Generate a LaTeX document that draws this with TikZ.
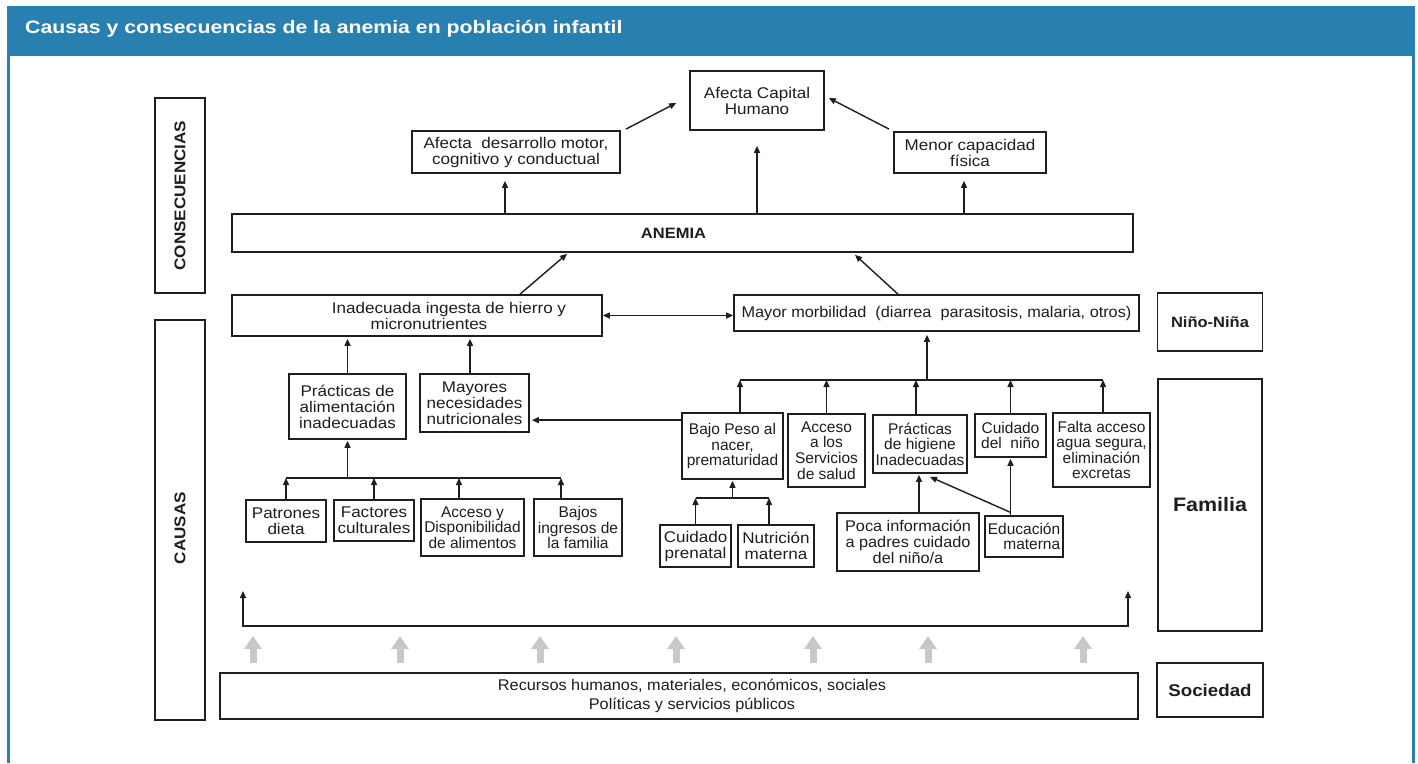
\documentclass[tikz,border=0pt]{standalone}
\usepackage{fontspec}
\setmainfont{Liberation Sans}
\newfontfamily\wideF{Liberation Sans}[FakeStretch=1.1]
\newfontfamily\midF{Liberation Sans}[FakeStretch=1.05]
\newfontfamily\titleF{Liberation Sans}[FakeStretch=1.18]
\usetikzlibrary{arrows.meta,calc}
\definecolor{hdr}{RGB}{40,128,177}
\definecolor{gar}{RGB}{200,200,200}
\definecolor{ink}{RGB}{30,30,30}
\begin{document}
\begin{tikzpicture}[x=1pt,y=-1pt,
 box/.style={draw=ink,line width=1.7pt,inner sep=0pt,align=center,text=ink,font=\wideF\fontsize{15.5}{16}\selectfont},
 nbox/.style={box,font=\fontsize{15.5}{15.6}\selectfont},
 mbox/.style={box,font=\midF\fontsize{15.5}{16}\selectfont},
 sz/.style 2 args={minimum width=#1pt,minimum height=#2pt},
 arr/.style={draw=ink,line width=1.4pt,-{Triangle[length=7pt,width=6pt]}},
 darr/.style={draw=ink,line width=1.4pt,{Triangle[length=7pt,width=6pt]}-{Triangle[length=7pt,width=6pt]}},
 bar/.style={draw=ink,line width=1.4pt},
 garr/.style={draw=gar,line width=7pt,-{Triangle[length=13pt,width=17pt]}},
 lab/.style={font=\wideF\bfseries\fontsize{15.5}{16}\selectfont,text=ink,inner sep=0pt}
]
\useasboundingbox (0,0) rectangle (1418,763);
\fill[white] (0,0) rectangle (1418,763);
% frame
\fill[hdr] (7,6) rectangle (1415,55.5);
\fill[hdr] (7,55) rectangle (10,763);
\fill[hdr] (1412,55) rectangle (1415,763);
\node[anchor=base west,text=white,inner sep=0pt,font=\titleF\bfseries\fontsize{18}{20}\selectfont] (title) at (25,33.5) {Causas y consecuencias de la anemia en población infantil};

% consequences
\node[box,sz={134}{59}] (capital) at (757,100.5) {Afecta Capital\\Humano};
\node[box,sz={208}{42}] (desar) at (516,152) {Afecta~ desarrollo motor,\\cognitivo y conductual};
\node[box,sz={152}{41}] (menor) at (970,152.5) {Menor capacidad\\física};
\node[box,sz={901}{38},label={[font=\wideF\bfseries\fontsize{15}{16}\selectfont,text=ink,inner sep=0pt,xshift=-9pt]center:ANEMIA}] (anemia) at (682.5,233) {};

% child level
\node[box,sz={370}{41},label={[font=\wideF\fontsize{15.5}{16}\selectfont,align=center,text=ink,inner sep=0pt,xshift=32pt]center:Inadecuada ingesta de hierro y\\micronutrientes\rule{40pt}{0pt}}] (inad) at (417,315.5) {};
\node[mbox,sz={405}{36}] (mayor) at (936.5,313) {Mayor morbilidad~ (diarrea~ parasitosis, malaria, otros)};

% left subtree
\node[box,sz={117}{65}] (practA) at (347.5,406.5) {Prácticas de\\alimentación\\inadecuadas};
\node[box,sz={109}{58}] (mayores) at (474.5,403) {Mayores\\necesidades\\nutricionales};
\node[box,sz={80}{42}] (patr) at (286,521) {Patrones\\dieta};
\node[box,sz={80}{41}] (fact) at (374,520.5) {Factores\\culturales};
\node[nbox,sz={103}{57}] (accA) at (472.5,527.5) {Acceso y\\Disponibilidad\\de alimentos};
\node[nbox,sz={88}{57}] (bajos) at (578,527.5) {Bajos\\ingresos de\\la familia};

% right subtree
\node[nbox,sz={101}{66}] (bajoP) at (732.5,446) {Bajo Peso al\\nacer,\\prematuridad};
\node[nbox,sz={77}{73}] (accS) at (826.5,450.5) {Acceso\\a los\\Servicios\\de salud};
\node[nbox,sz={94}{58}] (pracH) at (920,444) {Prácticas\\de higiene\\Inadecuadas};
\node[nbox,sz={71}{43}] (cuid) at (1010.5,435.5) {Cuidado\\del~ niño};
\node[nbox,sz={97}{74}] (falta) at (1101.5,450) {Falta acceso\\agua segura,\\eliminación\\excretas};
\node[box,sz={71}{42}] (prenat) at (695.5,546) {Cuidado\\prenatal};
\node[box,sz={76}{42}] (nutri) at (776,546) {Nutrición\\materna};
\node[mbox,sz={142}{58}] (poca) at (908,542) {Poca información\\a padres cuidado\\del niño/a};
\node[nbox,sz={78}{41},align=right] (educ) at (1024,536.5) {Educación\\materna};

% side labels
\node[box,sz={50}{195},label={[lab,rotate=90]center:CONSECUENCIAS}] (cons) at (180,195.5) {};
\node[box,sz={50}{400},label={[lab,yshift=-8pt,rotate=90]center:CAUSAS}] (caus) at (180,520) {};
\node[box,sz={105}{58},font=\wideF\bfseries\fontsize{15}{16}\selectfont] (nino) at (1210,322) {Niño-Niña};
\node[box,sz={104}{252},font=\wideF\bfseries\fontsize{19.5}{20}\selectfont] (fam) at (1210,505) {Familia};
\node[box,sz={106}{54},font=\wideF\bfseries\fontsize{17}{18}\selectfont] (soc) at (1210,690) {Sociedad};
\node[box,sz={918}{46},label={[font=\midF\fontsize{15.5}{19}\selectfont,align=center,text=ink,inner sep=0pt,xshift=13pt]center:Recursos humanos, materiales, económicos, sociales\\Políticas y servicios públicos}] (rec) at (679,696) {};

% connectors: consequences
\draw[arr,shorten >=7pt] ([xshift=-11pt]desar.south |- anemia.north) -- ([xshift=-11pt]desar.south);
\draw[arr,shorten >=15pt] (capital.south |- anemia.north) -- (capital.south);
\draw[arr,shorten >=7pt] ([xshift=-6pt]menor.south |- anemia.north) -- ([xshift=-6pt]menor.south);
\draw[arr] ([shift={(5,-1)}]desar.north east) -- ([shift={(-13,2.5)}]capital.west);
\draw[arr] ([shift={(-4,-2)}]menor.north west) -- ([shift={(4,-2.5)}]capital.east);
\draw[arr] ([xshift=103pt]inad.north) -- ([shift={(-115.5,1)}]anemia.south);
\draw[arr] ([xshift=-38.5pt]mayor.north) -- ([shift={(172.5,2)}]anemia.south);
\draw[darr] (inad.east) -- (inad.east -| mayor.west);

% left tree
\draw[arr,shorten >=2pt] (practA.north) -- (practA.north |- inad.south);
\draw[arr,shorten >=2pt] ([xshift=-4.5pt]mayores.north) -- ([xshift=-4.5pt]mayores.north |- inad.south);
\coordinate (barL) at (347,478);
\draw[bar] (patr.north |- barL) -- ([xshift=-17pt]bajos.north |- barL);
\draw[arr,shorten >=1pt] (practA.south |- barL) -- (practA.south);
\draw[arr] (patr.north) -- (patr.north |- barL);
\draw[arr] (fact.north) -- (fact.north |- barL);
\draw[arr] ([xshift=-13.5pt]accA.north) -- ([xshift=-13.5pt]accA.north |- barL);
\draw[arr] ([xshift=-17pt]bajos.north) -- ([xshift=-17pt]bajos.north |- barL);

% right tree
\coordinate (barR) at (927,380);
\draw[bar] ([xshift=7.5pt]bajoP.north |- barR) -- ([xshift=1.5pt]falta.north |- barR);
\draw[arr,shorten >=3pt] ([xshift=-9.5pt]mayor.south |- barR) -- ([xshift=-9.5pt]mayor.south);
\draw[arr] ([xshift=7.5pt]bajoP.north) -- ([xshift=7.5pt]bajoP.north |- barR);
\draw[arr] (accS.north) -- (accS.north |- barR);
\draw[arr] ([xshift=-4pt]pracH.north) -- ([xshift=-4pt]pracH.north |- barR);
\draw[arr] (cuid.north) -- (cuid.north |- barR);
\draw[arr] ([xshift=1.5pt]falta.north) -- ([xshift=1.5pt]falta.north |- barR);
\draw[arr,shorten >=2pt] ([yshift=-8pt]bajoP.north west) -- ([yshift=-8pt]bajoP.north west -| mayores.east);
\coordinate (barB) at (733,498);
\draw[bar] (prenat.north |- barB) -- ([xshift=-7pt]nutri.north |- barB);
\draw[arr,shorten >=1pt] (bajoP.south |- barB) -- (bajoP.south);
\draw[arr] (prenat.north) -- (prenat.north |- barB);
\draw[arr] ([xshift=-7pt]nutri.north) -- ([xshift=-7pt]nutri.north |- barB);
\draw[arr,shorten >=1pt] ([xshift=11pt]poca.north) -- ([xshift=11pt]poca.north |- pracH.south);
\draw[arr,shorten >=1pt] (cuid.south |- educ.north) -- (cuid.south);
\draw[arr] ([shift={(-14,-3)}]educ.north) -- ([shift={(10,3)}]pracH.south);

% bracket
\coordinate (bkL) at (243,591);
\coordinate (bkR) at (1128,591);
\coordinate (bkY) at (0,626);
\draw[darr] (bkL) -- (bkL |- bkY) -- (bkR |- bkY) -- (bkR);

% grey arrows from society
\foreach \gx [count=\i] in {253,400,540,676,813,928,1083} {
  \coordinate (g\i) at (\gx,663);
  \draw[garr] (g\i) -- ++(0,-27);
}
\end{tikzpicture}
\end{document}
